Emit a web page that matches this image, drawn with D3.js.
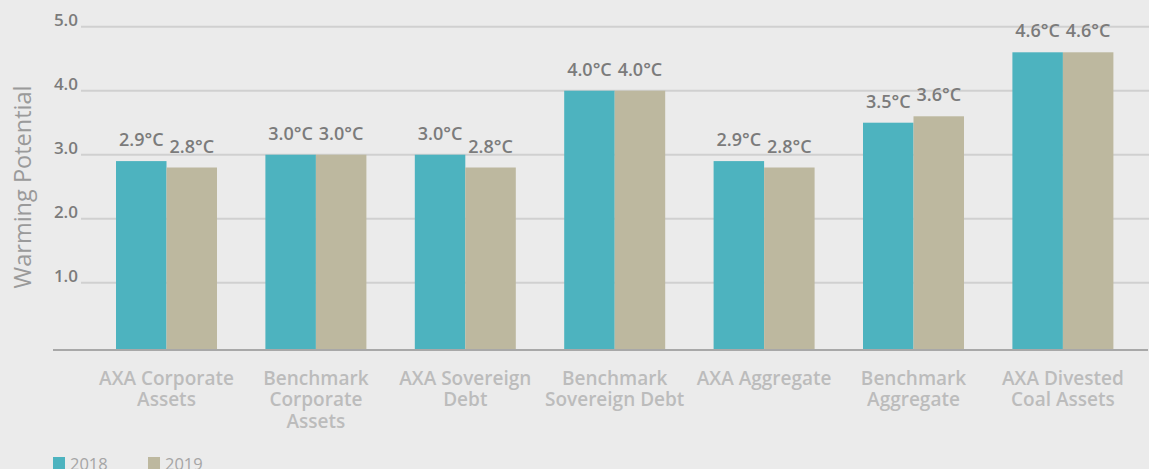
<!DOCTYPE html>
<html><head><meta charset="utf-8">
<script src="https://cdn.jsdelivr.net/npm/d3@7"></script>
<style>
html,body{margin:0;padding:0;background:#ebebeb;}
svg{display:block;font-family:"Open Sans",sans-serif;}
</style></head>
<body><svg id="c" width="1149" height="469"></svg>
<script>
const categories = [
  ["AXA Corporate","Assets"],
  ["Benchmark","Corporate","Assets"],
  ["AXA Sovereign","Debt"],
  ["Benchmark","Sovereign Debt"],
  ["AXA Aggregate"],
  ["Benchmark","Aggregate"],
  ["AXA Divested","Coal Assets"]
];
const series = ["2018","2019"];
const values2018 = [2.9, 3.0, 3.0, 4.0, 2.9, 3.5, 4.6];
const values2019 = [2.8, 3.0, 2.8, 4.0, 2.8, 3.6, 4.6];
const yTicks = [1.0, 2.0, 3.0, 4.0, 5.0];
const colors = ["#4db3bf", "#bdb89f"];

const svg = d3.select("#c");
const idx = d3.range(categories.length);
const x = d3.scaleBand().domain(idx).range([91.8, 1137.6]).paddingInner(0.324).paddingOuter(0.162);
const xs = d3.scaleBand().domain(series).range([0, x.bandwidth()]);
const y = d3.scaleLinear().domain([0, 5]).range([346.7, 26.7]);
const baseY = 350;

// gridlines
svg.append("g").selectAll("line").data(yTicks).join("line")
  .attr("x1", 81).attr("x2", 1149)
  .attr("y1", d => y(d)).attr("y2", d => y(d))
  .attr("stroke", "#d0d0d0").attr("stroke-width", 2);

// tick labels
svg.append("g").selectAll("text").data(yTicks).join("text")
  .attr("x", 78).attr("y", d => y(d) - 1)
  .attr("text-anchor", "end")
  .attr("font-size", 17).attr("font-weight", 600).attr("fill", "#7b7b7b")
  .text(d => d.toFixed(1));

// bars
const data = [];
idx.forEach(i => {
  data.push({i, s: "2018", v: values2018[i], c: colors[0]});
  data.push({i, s: "2019", v: values2019[i], c: colors[1]});
});
svg.append("g").selectAll("rect").data(data).join("rect")
  .attr("x", d => x(d.i) + xs(d.s))
  .attr("width", xs.bandwidth())
  .attr("y", d => y(d.v))
  .attr("height", d => baseY - y(d.v))
  .attr("fill", d => d.c);

// value labels
svg.append("g").selectAll("text").data(data).join("text")
  .attr("x", d => x(d.i) + xs(d.s) + xs.bandwidth()/2)
  .attr("y", d => y(d.v) - 15)
  .attr("text-anchor", "middle")
  .attr("font-size", 18).attr("font-weight", 600).attr("fill", "#7b7b7b")
  .text(d => d.v.toFixed(1) + "°C");

// baseline
svg.append("line").attr("x1", 53).attr("x2", 1148)
  .attr("y1", baseY).attr("y2", baseY)
  .attr("stroke", "#a8a8a8").attr("stroke-width", 2);

// category labels
const cat = svg.append("g").selectAll("text").data(idx).join("text")
  .attr("text-anchor", "middle")
  .attr("font-size", 19).attr("font-weight", 600).attr("fill", "#bcbcbc");
cat.each(function(i){
  const t = d3.select(this);
  categories[i].forEach((line, k) => {
    t.append("tspan").attr("x", x(i) + x.bandwidth()/2).attr("y", 384.5 + k*21.5).text(line);
  });
});

// y title
svg.append("text")
  .attr("transform", "translate(31,187) rotate(-90)")
  .attr("text-anchor", "middle")
  .attr("font-size", 23.5).attr("font-weight", 400).attr("fill", "#9a9a9a")
  .text("Warming Potential");

// legend
const lg = svg.append("g").selectAll("g").data(series).join("g")
  .attr("transform", (d, i) => `translate(${53 + i*95},457)`);
lg.append("rect").attr("width", 12).attr("height", 12).attr("fill", (d, i) => colors[i]);
lg.append("text").attr("x", 17).attr("y", 12.5)
  .attr("font-size", 16.5).attr("font-weight", 400).attr("fill", "#a5a5a5").text(d => d);
</script></body></html>
